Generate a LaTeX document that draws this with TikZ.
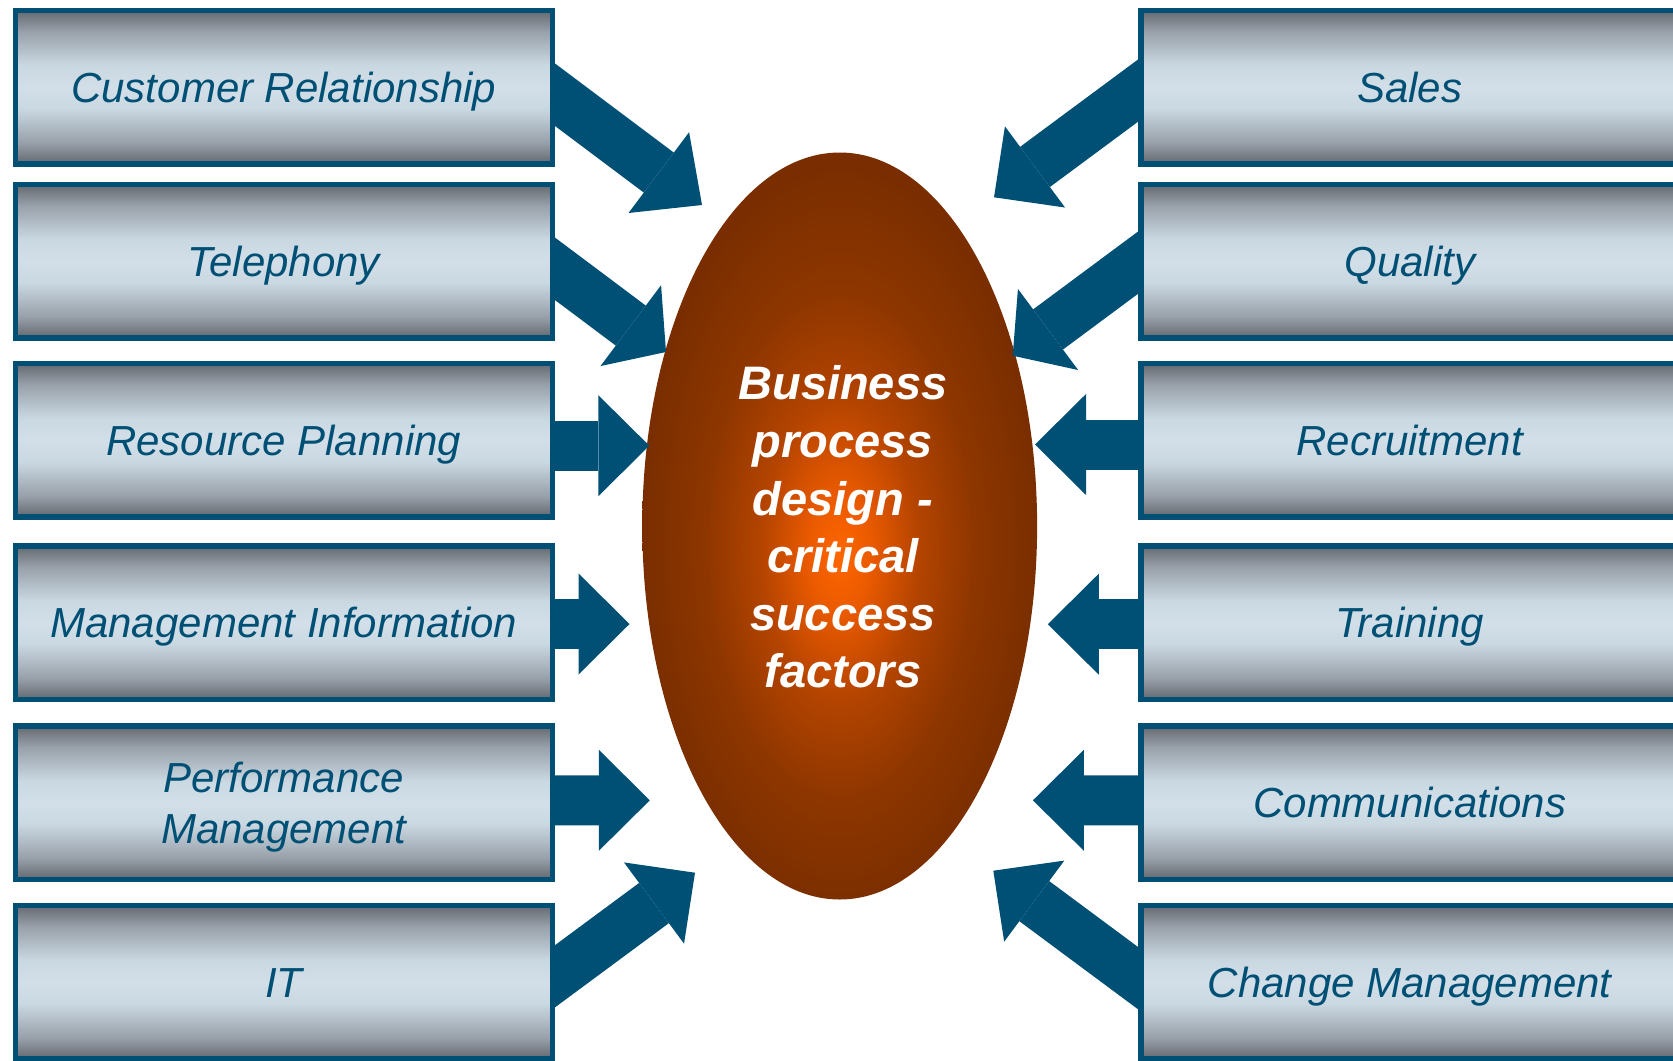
\documentclass[tikz,border=0pt]{standalone}
\usepackage{fontspec}
\setmainfont{Liberation Sans}
\usetikzlibrary{arrows.meta,calc,shapes.geometric}

\definecolor{navy}{HTML}{004F74}
\definecolor{mdark}{HTML}{646870}
\definecolor{mmid}{HTML}{99A1AA}
\definecolor{mlight}{HTML}{CAD8E2}
\definecolor{mlight2}{HTML}{D2DFE8}
\definecolor{glow0}{HTML}{FF6600}
\definecolor{glow1}{HTML}{EA5A00}
\definecolor{glow2}{HTML}{B44400}
\definecolor{glow3}{HTML}{8E3600}
\definecolor{glow4}{HTML}{7A2E00}

% metallic band: dark at top and bottom, pale blue in the middle
\pgfdeclareverticalshading{metal}{100bp}{color(0bp)=(mdark); color(25bp)=(mdark);
  color(32bp)=(mmid); color(43bp)=(mlight); color(50bp)=(mlight2); color(57bp)=(mlight);
  color(68bp)=(mmid); color(75bp)=(mdark); color(100bp)=(mdark)}
% glowing core of the oval
\pgfdeclareradialshading{ember}{\pgfpoint{0bp}{-2bp}}{color(0bp)=(glow0); color(4bp)=(glow1);
  color(10bp)=(glow2); color(17bp)=(glow3); color(25bp)=(glow4); color(50bp)=(glow4)}

\pgfdeclarelayer{ovallayer}
\pgfdeclarelayer{arrowlayer}
\pgfsetlayers{ovallayer,arrowlayer,main}

\begin{document}
\begin{tikzpicture}[x=0.5pt,y=-0.5pt,
  factor/.style={rectangle, draw=navy, line width=2.75pt, shade, shading=metal,
    inner sep=0pt, minimum width=268.5pt, minimum height=76.75pt,
    font=\fontsize{21}{25.5}\selectfont\itshape, text=navy, align=center},
  oneline/.style={factor, text height=15.1pt, text depth=0pt},
  blockarrow/.style={draw=navy, line width=25pt,
    -{Triangle[width=50.5pt,length=25.5pt,line width=0pt]}},
  longhead/.style={-{Triangle[width=50.5pt,length=27pt,line width=0pt]}},
  shorthead/.style={-{Triangle[width=50.5pt,length=22pt,line width=0pt]}},
  ]
\useasboundingbox (0,0) rectangle (1673,1060);
\clip (0,0) rectangle (1673,1060);

% central oval
\begin{pgfonlayer}{ovallayer}
\node[ellipse, shade, shading=ember, minimum width=197.4pt, minimum height=373.5pt,
  inner sep=0pt, text=white, font=\fontsize{23.5}{28.8}\selectfont\bfseries\itshape]
  (core) at (839.7,526)
  {\raisebox{0pt}[\dimexpr\height+6.4pt\relax][\depth]{\begin{tabular}{@{\hspace{3.2pt}}c@{}}
   Business\\process\\design -\\critical\\success\\factors
   \end{tabular}}};
\end{pgfonlayer}

% left column
\node[oneline] (crm)  at (283.75,87)    {Customer Relationship};
\node[oneline] (tel)  at (283.75,261)   {Telephony};
\node[oneline] (rp)   at (283.75,440)   {Resource Planning};
\node[oneline] (mi)   at (283.75,622.5) {Management Information};
\node[factor, text depth=0pt] (pm) at (283.75,802.5) {Performance\\Management};
\node[oneline] (it)   at (283.75,982)   {IT};

% right column
\node[oneline] (sal)  at (1409.7,87)    {Sales};
\node[oneline] (qual) at (1409.7,261)   {Quality};
\node[oneline] (rec)  at (1409.7,440)   {Recruitment};
\node[oneline] (trn)  at (1409.7,622.5) {Training};
\node[oneline] (com)  at (1409.7,802.5) {Communications};
\node[oneline] (chg)  at (1409.7,982)   {Change Management};

% arrow tips around the oval
\coordinate (t1) at (702,205);
\coordinate (t2) at (666,352);
\coordinate (t3) at (649.3,445.7);
\coordinate (t4) at (629.5,624);
\coordinate (t5) at (649.8,800.3);
\coordinate (t6) at (695,872.7);
\coordinate (u1) at (994,197.3);
\coordinate (u2) at (1012.7,355.7);
\coordinate (u3) at (1035,444.5);
\coordinate (u4) at (1047.8,624.2);
\coordinate (u5) at (1032.9,800.3);
\coordinate (u6) at (993.3,870.7);

% block arrows, starting behind the boxes
\begin{pgfonlayer}{arrowlayer}
\draw[blockarrow,longhead]  ($(crm.east)+(-29.4,-14.3)$) -- (t1);
\draw[blockarrow,shorthead] ($(tel.east)+(-29.4,-14.2)$) -- (t2);
\draw[blockarrow] ($(rp.east)+(-37.25,5.7)$)  -- (t3);
\draw[blockarrow] ($(mi.east)+(-37.25,1.5)$)  -- (t4);
\draw[blockarrow] ($(pm.east)+(-37.25,-2.2)$) -- (t5);
\draw[blockarrow] ($(it.east)+(-29.55,16.1)$) -- (t6);
\draw[blockarrow] ($(sal.west)+(29.55,-18.6)$) -- (u1);
\draw[blockarrow,shorthead] ($(qual.west)+(29.55,-20.6)$) -- (u2);
\draw[blockarrow] ($(rec.west)+(37.25,4.5)$)  -- (u3);
\draw[blockarrow] ($(trn.west)+(37.25,1.7)$)  -- (u4);
\draw[blockarrow] ($(com.west)+(37.25,-2.2)$) -- (u5);
\draw[blockarrow] ($(chg.west)+(29.45,18.3)$) -- (u6);
\end{pgfonlayer}
\end{tikzpicture}
\end{document}
